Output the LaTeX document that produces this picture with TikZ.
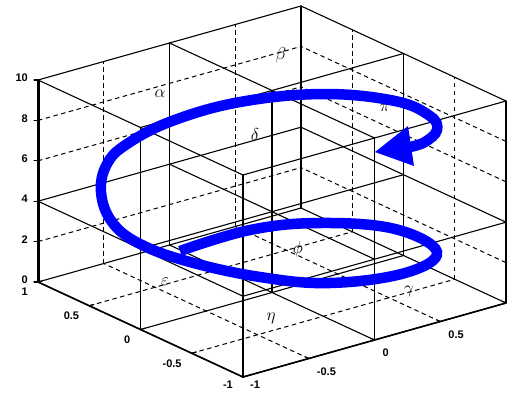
\documentclass[tikz,border=0pt]{standalone}
\usepackage{fontspec}
\setsansfont{Liberation Sans}
\definecolor{helixblue}{RGB}{0,0,255}
\begin{document}
\begin{tikzpicture}[x=1pt,y=-1pt,
  gridline/.style={line width=1pt, dash pattern=on 4.5pt off 3.5pt},
  lat/.style={line width=1.1pt, line cap=round},
  axisline/.style={line width=1.6pt},
  zaxis/.style={line width=3pt},
  ticklab/.style={font=\sffamily\bfseries\fontsize{11}{11}\selectfont, inner sep=0pt},
  greek/.style={font=\fontsize{19}{19}\selectfont, inner sep=0pt},
  spiral/.style={draw=helixblue, line width=10.5pt}]
\useasboundingbox (0,0) rectangle (516,394);
\fill[white] (0,0) rectangle (516,394);
\begin{scope}[shift={(272pt,-292.5pt)}, x={(-102.5pt,47.5pt)}, y={(131.5pt,37pt)}, z={(0pt,20.2pt)}]
  % dashed grid on back walls and floor
  \foreach \b in {-0.5,0.5} \draw[gridline] (1,\b,0) -- (1,\b,10);
  \foreach \z in {2,6,8} \draw[gridline] (1,-1,\z) -- (1,1,\z);
  \foreach \a in {-0.5,0.5} \draw[gridline] (\a,1,0) -- (\a,1,10);
  \foreach \z in {2,6,8} \draw[gridline] (-1,1,\z) -- (1,1,\z);
  \foreach \a in {-0.5,0.5} \draw[gridline] (\a,-1,0) -- (\a,1,0);
  \foreach \b in {-0.5,0.5} \draw[gridline] (-1,\b,0) -- (1,\b,0);
  % solid lattice of the 2x2x2 cells
  \foreach \a in {-1,0,1} \foreach \b in {-1,0,1} \draw[lat] (\a,\b,0) -- (\a,\b,10);
  \foreach \a in {-1,0,1} \foreach \z in {0,4,10} \draw[lat] (\a,-1,\z) -- (\a,1,\z);
  \foreach \b in {-1,0,1} \foreach \z in {0,4,10} \draw[lat] (-1,\b,\z) -- (1,\b,\z);
  % axes
  \draw[zaxis] (1,-1,0) -- (1,-1,10);
  \draw[axisline] (1,-1,0) -- (-1,-1,0) -- (-1,1,0);
  \foreach \z in {0,2,...,10} {
    \draw[lat] (1,-1,\z) -- ++(-4pt,0pt);
    \node[ticklab, anchor=east] (zl\z) at ([xshift=-10pt,yshift=2pt]1,-1,\z) {\z};
  }
  \foreach \a/\t/\n in {1/1/a1,0.5/0.5/a2,0/0/a3,-0.5/-0.5/a4} {
    \draw[lat] (\a,-1,0) -- (\a,-0.965,0);
    \node[ticklab, anchor=north east] (\n) at ([xshift=-10pt,yshift=-6pt]\a,-1,0) {\t};
  }
  \draw[lat] (-1,-1,0) -- (-1,-0.965,0);
  \node[ticklab, anchor=north east] (a5) at ([xshift=-10pt,yshift=-4pt]-1,-1,0) {-1};
  \node[ticklab, anchor=north west] (b1) at ([xshift=7pt,yshift=-4pt]-1,-1,0) {-1};
  \foreach \b/\t/\n in {-0.5/-0.5/b2,0/0/b3,0.5/0.5/b4} {
    \draw[lat] (-1,\b,0) -- (-0.965,\b,0);
    \node[ticklab, anchor=north west] (\n) at ([xshift=8pt,yshift=-9pt]-1,\b,0) {\t};
  }
  \draw[lat] (-1,1,0) -- (-0.965,1,0);
\end{scope}
% cell labels
\node[greek] (alpha) at (160,94) {$\alpha$};
\node[greek] (beta) at (281,55) {$\beta$};
\node[greek] (delta) at (255,134) {$\delta$};
\node[greek] (pi) at (385,108) {$\pi$};
\node[greek] (phi) at (298,249) {$\phi$};
\node[greek] (eps) at (165,282) {$\varepsilon$};
\node[greek] (eta) at (271,318) {$\eta$};
\node[greek] (gam) at (409,291) {$\gamma$};
% spiral
\draw[spiral] plot[smooth, tension=0.65] coordinates {
  (180,251) (250,230) (320,223) (395,229) (437,252) (405,273) (330,283)
  (260,277) (190,262) (140,244) (112,222) (101,192) (107,164) (127,144)
  (172,121) (240,102) (323,94) (395,101) (430,116) (437,130) (425,142)
  (410,147)};
\fill[helixblue] (375,152) -- (408,126) -- (414,166) -- cycle;
\end{tikzpicture}
\end{document}
